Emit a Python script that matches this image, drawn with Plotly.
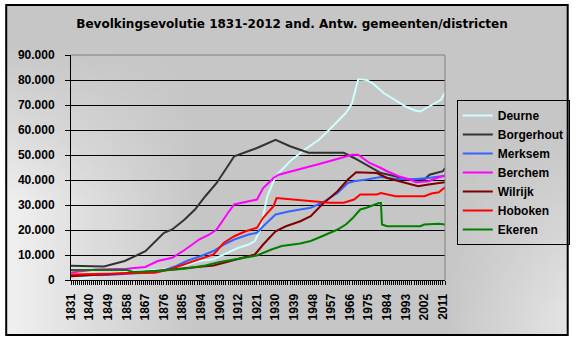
import base64, struct, zlib
import plotly.graph_objects as go

# ---------------- data ----------------
deurne_years = [1835, 1840, 1846, 1855, 1865, 1875, 1885, 1893, 1900, 1907, 1912, 1917, 1920, 1922.6, 1926, 1930,
                1937, 1944, 1951, 1956, 1960, 1964, 1967, 1970, 1974, 1977, 1982.5, 1988, 1993, 1997.5, 2000,
                2003, 2006, 2010, 2012]
deurne_vals = [300, 1300, 2300, 3000, 3500, 4200, 5600, 7600, 8300, 10900, 12900, 14200, 15600, 20200, 33500, 41500,
               47500, 52100, 56100, 60100, 63400, 66800, 70700, 80300, 80000, 78700, 74700, 72100, 69400, 67800, 67400,
               68800, 70100, 72100, 75000]

borgerhout_years = [1831, 1844, 1847, 1857, 1867, 1876, 1880, 1886, 1891, 1896, 1901.5, 1910, 1921, 1930, 1937,
                    1946, 1963, 1968, 1974, 1981, 1988, 1993, 2002, 2004.5, 2011, 2012]
borgerhout_vals = [5700, 5700, 5400, 7600, 11500, 18900, 20200, 24200, 28200, 33500, 38800, 49500, 52800, 56100, 53500,
                   50900, 50900, 48800, 46100, 42800, 41500, 40200, 40200, 42100, 43500, 44800]

merksem_years = [1831, 1849, 1860, 1870, 1875, 1882, 1887, 1894, 1900, 1905, 1910, 1917, 1921, 1924, 1930, 1937,
                 1947, 1952.5, 1960, 1965, 1968, 1974, 1981, 1988, 1995, 1998, 2004, 2012]
merksem_vals = [1900, 2000, 2600, 3300, 3600, 5600, 7600, 9600, 11600, 14200, 16200, 18200, 18900, 21500, 26200, 27500,
                28900, 30900, 34800, 38800, 39500, 40200, 41200, 40400, 40400, 40400, 40800, 41700]

berchem_years = [1831, 1843, 1858, 1867, 1873, 1880, 1886, 1893, 1898, 1901.5, 1907, 1910, 1917, 1921, 1924, 1929,
                 1931.5, 1938.5, 1947, 1956, 1967, 1970, 1975.5, 1981, 1984, 1989.5, 1995, 1998, 2004, 2009, 2012]
berchem_vals = [3000, 4200, 4500, 5200, 7600, 8900, 12000, 16200, 18200, 20200, 26900, 30200, 31500, 32200, 36800, 40800,
                42100, 43500, 45500, 47500, 50100, 50100, 46800, 44800, 43500, 41500, 40200, 39100, 39500, 41100, 41700]

wilrijk_years = [1831, 1861, 1877, 1889, 1900, 1910, 1920, 1924, 1930, 1935, 1942, 1947, 1952.5, 1960, 1965, 1969,
                 1979, 1984, 1989.5, 1995, 1999, 2004, 2012]
wilrijk_vals = [1500, 2900, 4000, 4900, 5800, 8000, 10200, 14200, 19500, 21500, 23500, 25500, 30200, 35500, 40200, 43100,
                42800, 40800, 39500, 38200, 37500, 38200, 39100]

hoboken_years = [1831, 1861, 1871.5, 1878.5, 1886, 1893, 1900, 1905, 1910, 1915.5, 1921, 1924, 1929, 1930.5, 1938.5,
                 1947, 1956, 1963, 1968, 1971, 1979, 1981, 1984, 1988, 1995, 2002, 2005.5, 2009, 2012]
hoboken_vals = [2200, 2500, 2900, 4200, 6200, 8200, 10200, 14900, 17500, 19500, 20900, 24900, 29500, 32800, 32200,
                31500, 30900, 30900, 32200, 34200, 34200, 34800, 34200, 33500, 33500, 33500, 34600, 35100, 37100]

ekeren_years = [1831, 1858, 1861, 1873, 1886, 1896, 1903, 1912, 1921, 1928, 1933, 1942, 1947, 1952.5, 1960, 1964,
                1967.5, 1971, 1974, 1980, 1981, 1981.5, 1984, 2000, 2002, 2009, 2012]
ekeren_vals = [4000, 4000, 3200, 3600, 4500, 5800, 7200, 8500, 9800, 12200, 13600, 14600, 15600, 17500, 20200, 22200,
               24900, 28200, 28900, 30800, 30800, 22200, 21500, 21500, 22200, 22500, 22200]

series_names = ["Deurne", "Borgerhout", "Merksem", "Berchem", "Wilrijk", "Hoboken", "Ekeren"]
series_years = [deurne_years, borgerhout_years, merksem_years, berchem_years, wilrijk_years, hoboken_years, ekeren_years]
series_vals = [deurne_vals, borgerhout_vals, merksem_vals, berchem_vals, wilrijk_vals, hoboken_vals, ekeren_vals]
series_colors = ["#ccffff", "#333333", "#3366ff", "#ff00ff", "#800000", "#ff0000", "#008000"]

title_text = "Bevolkingsevolutie 1831-2012 and. Antw. gemeenten/districten"

# ---------------- layout geometry ----------------
W, H = 582, 340
L, R, T, B = 71, 130, 55, 60
PW, PH = W - L - R, H - T - B


def px_to_paper_x(px):
    return (px - L) / PW


def py_to_paper_y(py):
    return (H - B - py) / PH


# ---------------- background gradient image ----------------
def clamp(v):
    return max(0.0, min(1.0, v))


def make_png(w, h):
    rows = []
    for j in range(h):
        v = j / (h - 1)
        row = bytearray([0])
        for i in range(w):
            u = i / (w - 1)
            fl = clamp(1 - u / 0.35) * clamp((v - 0.1) / 0.5)
            fr = clamp((u - 0.78) / 0.22) * clamp((v - 0.35) / 0.6) * 0.7
            g = int(198 + 42 * max(fl, fr))
            row += bytes([g, g, g])
        rows.append(bytes(row))
    raw = b"".join(rows)

    def chunk(tag, data):
        c = struct.pack(">I", len(data)) + tag + data
        return c + struct.pack(">I", zlib.crc32(tag + data) & 0xffffffff)

    png = b"\x89PNG\r\n\x1a\n"
    png += chunk(b"IHDR", struct.pack(">IIBBBBB", w, h, 8, 2, 0, 0, 0))
    png += chunk(b"IDAT", zlib.compress(raw, 9))
    png += chunk(b"IEND", b"")
    return "data:image/png;base64," + base64.b64encode(png).decode()


bg_src = make_png(64, 40)

FONT = "Arial, 'Liberation Sans', sans-serif"
TITLE_FONT = "'DejaVu Sans', Arial, sans-serif"

fig = go.Figure()
for name, xs, ys, col in zip(series_names, series_years, series_vals, series_colors):
    fig.add_trace(go.Scatter(x=xs, y=ys, name=name, mode="lines",
                             line=dict(color=col, width=2)))

fig.update_layout(
    width=W, height=H, autosize=False,
    margin=dict(l=L, r=R, t=T, b=B, pad=0),
    paper_bgcolor="white",
    plot_bgcolor="#c0c0c0",
    separators=",.",
    font=dict(family=FONT, size=12, color="black"),
    title=dict(text=title_text, x=292 / W, xref="container", xanchor="center",
               y=1 - 24 / H, yref="container", yanchor="middle",
               font=dict(family=TITLE_FONT, size=12, color="black", weight="bold")),
    xaxis=dict(range=[1831, 2012], tickmode="linear", tick0=1831, dtick=9,
               tickangle=-90, ticks="outside", ticklen=4, tickcolor="black",
               showline=True, linecolor="black", linewidth=1,
               showgrid=False, zeroline=False,
               tickfont=dict(family=FONT, size=12, color="black", weight="bold"),
               ticklabelstandoff=4,
               minor=dict(dtick=1, tick0=1831, ticks="outside", ticklen=4, tickcolor="black",
                          showgrid=False)),
    yaxis=dict(range=[0, 90000], tickmode="linear", tick0=0, dtick=10000,
               tickformat=",d", ticks="outside", ticklen=5, tickcolor="black",
               showline=True, linecolor="black", linewidth=1,
               showgrid=True, gridcolor="black", gridwidth=1, zeroline=False,
               tickfont=dict(family=FONT, size=12, color="black", weight="bold"),
               ticklabelstandoff=8),
    legend=dict(x=px_to_paper_x(464), y=py_to_paper_y(100), xanchor="left", yanchor="top",
                bgcolor="rgba(0,0,0,0)", bordercolor="black", borderwidth=1,
                itemwidth=30, tracegroupgap=0,
                font=dict(family=FONT, size=12, color="black", weight="bold")),
    showlegend=True,
    images=[dict(source=bg_src, xref="paper", yref="paper",
                 x=px_to_paper_x(5), y=py_to_paper_y(5),
                 sizex=572 / PW, sizey=330 / PH, sizing="stretch",
                 xanchor="left", yanchor="top", layer="below")],
    shapes=[
        dict(type="rect", xref="paper", yref="paper",
             x0=px_to_paper_x(5), x1=px_to_paper_x(577),
             y0=py_to_paper_y(335), y1=py_to_paper_y(5),
             line=dict(color="black", width=2), fillcolor="rgba(0,0,0,0)", layer="above"),
        dict(type="line", xref="x domain", yref="y domain", x0=0, x1=1, y0=1, y1=1,
             line=dict(color="#808080", width=1), layer="above"),
        dict(type="line", xref="x domain", yref="y domain", x0=1, x1=1, y0=0, y1=1,
             line=dict(color="#808080", width=1), layer="above"),
    ],
)

fig.write_html("out.html")
